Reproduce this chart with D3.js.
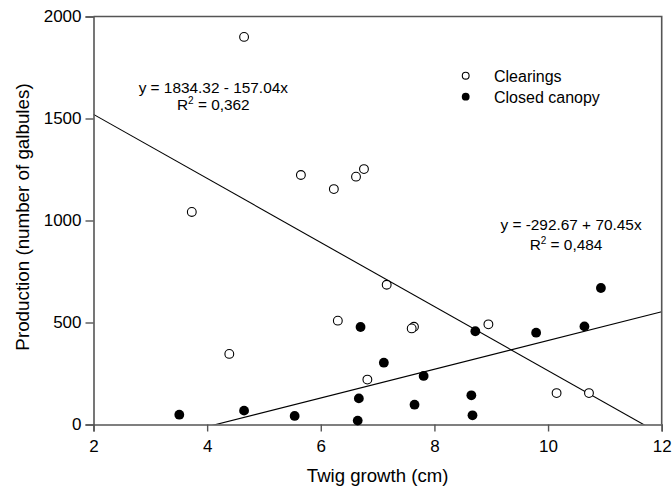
<!DOCTYPE html>
<html>
<head>
<meta charset="utf-8">
<script src="https://cdn.jsdelivr.net/npm/d3@7"></script>
<style>
  html, body { margin: 0; padding: 0; background: #fff; }
  svg { display: block; font-family: "Liberation Sans", Arial, sans-serif; }
</style>
</head>
<body>
<svg id="chart" width="672" height="494"></svg>
<script>
// ---- data ----
const clearingsX = [4.65, 3.73, 5.65, 6.23, 6.62, 6.76, 7.16, 6.30, 7.64, 7.60, 8.95, 6.82, 10.15, 10.72, 4.39];
const clearingsY = [1900, 1042, 1223, 1154, 1215, 1252, 685, 509, 479, 471, 491, 220, 154, 154, 346];
const closedX = [3.51, 4.65, 5.54, 6.70, 7.11, 7.81, 6.67, 6.65, 7.65, 8.65, 8.67, 8.72, 9.79, 10.64, 10.93];
const closedY = [48, 68, 42, 478, 303, 238, 128, 19, 97, 143, 45, 457, 450, 481, 669];
const xTicks = [2, 4, 6, 8, 10, 12];
const yTicks = [0, 500, 1000, 1500, 2000];
const seriesNames = ["Clearings", "Closed canopy"];
const fitIntercepts = [1834.32, -292.67];
const fitSlopes = [-157.04, 70.45];
const fitEquations = ["y = 1834.32 - 157.04x", "y = -292.67 + 70.45x"];
const fitR2 = ["0,362", "0,484"];

// ---- layout ----
const svg = d3.select("#chart");
const pL = 93.5, pR = 661.7, pT = 16.5, pB = 424.5;
const x = d3.scaleLinear().domain([2, 12]).range([pL, pR]);
const y = d3.scaleLinear().domain([0, 2000]).range([pB, pT]);
const axisColor = "#555";

svg.append("defs").append("clipPath").attr("id", "plotclip")
  .append("rect").attr("x", pL).attr("y", pT)
  .attr("width", pR - pL).attr("height", pB - pT);

// regression lines
const fits = fitIntercepts.map((a, i) => ({a, b: fitSlopes[i]}));
svg.append("g").attr("clip-path", "url(#plotclip)")
  .selectAll("line").data(fits).join("line")
  .attr("x1", x(2)).attr("x2", x(12))
  .attr("y1", d => y(d.a + d.b * 2)).attr("y2", d => y(d.a + d.b * 12))
  .attr("stroke", "#000").attr("stroke-width", 1.1);

// frame (top & right)
svg.append("path")
  .attr("d", `M${pL},${pT}H${pR}V${pB}`)
  .attr("fill", "none").attr("stroke", axisColor).attr("stroke-width", 1.6);

// axes
const xAxis = d3.axisBottom(x).tickValues(xTicks).tickSize(7).tickPadding(5).tickFormat(d3.format("d"));
const gx = svg.append("g").attr("transform", `translate(0,${pB})`).call(xAxis);
const yAxis = d3.axisLeft(y).tickValues(yTicks).tickSize(8).tickPadding(4).tickFormat(d3.format("d"));
const gy = svg.append("g").attr("transform", `translate(${pL},0)`).call(yAxis);
[gx, gy].forEach(g => {
  g.select(".domain").attr("stroke", axisColor).attr("stroke-width", 1.6);
  g.selectAll(".tick line").attr("stroke", axisColor).attr("stroke-width", 1.4);
  g.selectAll(".tick text").attr("fill", "#000").attr("font-size", 17)
    .attr("font-family", "'Liberation Sans', Arial, sans-serif");
});
gx.selectAll(".tick text").attr("dy", "0.9em");

// axis titles
svg.append("text").attr("x", (pL + pR) / 2).attr("y", 481.5)
  .attr("text-anchor", "middle").attr("font-size", 18.6).text("Twig growth (cm)");
svg.append("text")
  .attr("transform", `translate(29,217) rotate(-90)`)
  .attr("text-anchor", "middle").attr("font-size", 18.8)
  .text("Production (number of galbules)");

// points
const r = 4.4;
const clearings = clearingsX.map((v, i) => ({x: v, y: clearingsY[i]}));
const closed = closedX.map((v, i) => ({x: v, y: closedY[i]}));
svg.append("g").selectAll("circle").data(clearings).join("circle")
  .attr("cx", d => x(d.x)).attr("cy", d => y(d.y)).attr("r", r)
  .attr("fill", "#fff").attr("stroke", "#000").attr("stroke-width", 1.1);
svg.append("g").selectAll("circle").data(closed).join("circle")
  .attr("cx", d => x(d.x)).attr("cy", d => y(d.y)).attr("r", r + 0.5)
  .attr("fill", "#000");

// legend
const legend = svg.append("g");
seriesNames.forEach((name, i) => {
  const ly = 75.7 + i * 21;
  legend.append("circle").attr("cx", 465.7).attr("cy", ly).attr("r", i === 0 ? 3.4 : 3.9)
    .attr("fill", i === 0 ? "#fff" : "#000").attr("stroke", "#000").attr("stroke-width", i === 0 ? 1.1 : 0);
  legend.append("text").attr("x", 494).attr("y", ly + 5.8).attr("font-size", 16).text(name);
});

// fit annotations
const annot = [
  {cx: 213.3, y1: 92.5, cx2: 213.3, y2: 110},
  {cx: 571, y1: 229.5, cx2: 566, y2: 250}
];
annot.forEach((p, i) => {
  svg.append("text").attr("x", p.cx).attr("y", p.y1).attr("text-anchor", "middle")
    .attr("font-size", 15.4).text(fitEquations[i]);
  const t = svg.append("text").attr("x", p.cx2).attr("y", p.y2).attr("text-anchor", "middle")
    .attr("font-size", 15.4);
  t.append("tspan").text("R");
  t.append("tspan").attr("font-size", 10).attr("dy", -6).text("2");
  t.append("tspan").attr("dy", 6).text(" = " + fitR2[i]);
});
</script>
</body>
</html>
